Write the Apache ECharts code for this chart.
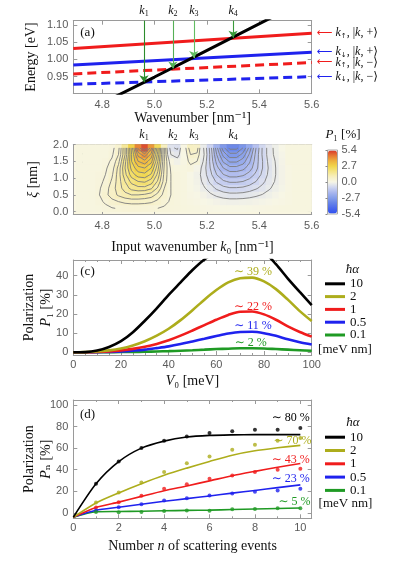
<!DOCTYPE html>
<html><head><meta charset="utf-8">
<script src="https://cdn.jsdelivr.net/npm/echarts@6/dist/echarts.min.js"></script>
<style>html,body{margin:0;padding:0;background:#fff}#c{width:398px;height:564px}</style>
</head><body><div id="c"></div>
<script>
// ================= DATA =================
// (a) band lines: energy at the two ends of the wavenumber window
const waveX = [4.69, 5.6];
const bandUpPlus = [1.032, 1.076];   // red solid
const bandDnPlus = [0.984, 1.021];   // blue solid
const bandUpMinus = [0.958, 0.991];  // red dashed
const bandDnMinus = [0.928, 0.950];  // blue dashed
const freeK = [4.85, 5.0, 5.15, 5.30, 5.45];
const freeE = [0.892, 0.949, 1.007, 1.065, 1.123];
const kPoints = [4.96, 5.07, 5.15, 5.30];
const kTargets = [0.934, 0.974, 1.004, 1.063];
const kNames = ['1', '2', '3', '4'];
const bandSpin = ['↑', '↓', '↑', '↓'];
const bandSign = ['+', '+', '−', '−'];

// (b) P1 map (cells 0.025 nm^-1 x 0.2 nm), rows from xi = 0.1 to 1.9
const kCells = [4.7125,4.7375,4.7625,4.7875,4.8125,4.8375,4.8625,4.8875,4.9125,4.9375,4.9625,4.9875,5.0125,5.0375,5.0625,5.0875,5.1125,5.1375,5.1625,5.1875,5.2125,5.2375,5.2625,5.2875,5.3125,5.3375,5.3625,5.3875,5.4125,5.4375,5.4625,5.4875,5.5125,5.5375,5.5625,5.5875];
const xiCells = [0.1,0.3,0.5,0.7,0.9,1.1,1.3,1.5,1.7,1.9];
const P1grid = [
 [0.15,0.15,0.15,0.18,0.22,0.28,0.32,0.35,0.36,0.36, 0.35,0.33,0.30,0.26,0.22,0.20,0.18,0.15,0.13,0.10, 0.08,0.06,0.05,0.04,0.04,0.05,0.06,0.08,0.10,0.12, 0.14,0.15,0.15,0.15,0.15,0.15],
 [0.15,0.15,0.16,0.22,0.35,0.50,0.60,0.68,0.72,0.72, 0.70,0.65,0.52,0.38,0.26,0.20,0.16,0.12,0.08,0.02, -0.04,-0.10,-0.14,-0.16,-0.16,-0.15,-0.13,-0.10,-0.06,-0.02, 0.04,0.08,0.12,0.15,0.15,0.15],
 [0.15,0.15,0.18,0.28,0.50,0.75,0.95,1.10,1.20,1.20, 1.15,1.05,0.80,0.50,0.30,0.20,0.15,0.08,0.02,-0.10, -0.24,-0.36,-0.45,-0.50,-0.50,-0.48,-0.43,-0.36,-0.28,-0.18, -0.08,0.02,0.12,0.15,0.15,0.15],
 [0.15,0.15,0.15,0.25,0.45,0.75,1.05,1.35,1.60,1.70, 1.70,1.55,1.15,0.60,0.30,0.20,0.15,0.05,-0.06,-0.25, -0.46,-0.66,-0.80,-0.87,-0.87,-0.84,-0.76,-0.64,-0.50,-0.34, -0.20,-0.06,0.10,0.15,0.15,0.15],
 [0.15,0.15,0.15,0.22,0.35,0.65,1.05,1.50,1.90,2.10, 2.15,1.95,1.45,0.75,0.30,0.20,0.15,0.02,-0.12,-0.38, -0.66,-0.95,-1.15,-1.25,-1.25,-1.20,-1.08,-0.90,-0.68,-0.45, -0.27,-0.10,0.10,0.15,0.15,0.15],
 [0.15,0.15,0.15,0.20,0.30,0.55,1.05,1.70,2.25,2.55, 2.60,2.35,1.70,0.80,0.30,0.20,0.15,0.00,-0.15,-0.45, -0.80,-1.20,-1.48,-1.62,-1.62,-1.55,-1.38,-1.12,-0.82,-0.52, -0.30,-0.10,0.10,0.15,0.15,0.15],
 [0.15,0.15,0.15,0.15,0.25,0.45,1.00,1.80,2.50,2.90, 3.00,2.70,1.90,0.85,0.25,0.15,0.15,0.20,-0.05,-0.45, -0.90,-1.40,-1.80,-2.00,-2.00,-1.90,-1.65,-1.30,-0.90,-0.55, -0.30,-0.10,0.10,0.15,0.15,0.15],
 [0.15,0.15,0.15,0.15,0.20,0.35,0.80,1.70,2.70,3.30, 3.50,3.10,2.10,0.90,0.10,-0.15,0.10,0.40,0.30,-0.35, -0.95,-1.60,-2.15,-2.45,-2.45,-2.25,-1.85,-1.35,-0.90,-0.50, -0.28,-0.08,0.15,0.15,0.15,0.15],
 [0.15,0.15,0.15,0.15,0.15,0.25,0.60,1.50,2.70,3.70, 4.10,3.50,2.30,0.90,-0.30,-0.45,0.05,0.60,0.55,-0.25, -0.95,-1.80,-2.50,-2.90,-2.90,-2.60,-2.05,-1.40,-0.85,-0.45, -0.22,-0.05,0.15,0.15,0.15,0.15],
 [0.15,0.15,0.15,0.15,0.15,0.20,0.50,1.50,2.80,4.30, 5.10,4.00,2.50,0.90,-0.55,-0.65,0.10,0.80,0.75,-0.30, -1.00,-2.00,-2.90,-3.40,-3.40,-3.00,-2.30,-1.50,-0.85,-0.45, -0.20,0.00,0.15,0.15,0.15,0.15]
];
const contourLevels = [-3.3,-3.0,-2.7,-2.4,-2.1,-1.8,-1.5,-1.2,-0.9,-0.6,-0.3,0.3,0.6,0.9,1.2,1.5,1.8,2.1,2.4,2.7,3.0,3.3,3.6,3.9,4.2,4.5,4.8];

// (c) P1 vs V0
const alphaNames = ['10', '2', '1', '0.5', '0.1'];
const V0 = [0,5,10,15,20,25,30,35,40,45,50,55,60,65,70,75,80,85,90,95,100];
const P1_10  = [0,0.1,0.9,2.8,5.8,10.5,16.5,23,30,36.5,43,48.5,52.5,55.5,57,56,52.5,46,38.5,31.5,24.7];
const P1_2   = [0,0.1,0.4,1.0,2.0,3.6,5.8,8.7,12.3,16.8,22,27.5,32.5,36.5,38.7,39,37,33,27.5,21.5,16.3];
const P1_1   = [0,0.05,0.2,0.5,1.0,1.8,2.9,4.4,6.3,8.7,11.4,14.2,17,19.5,21.2,21.3,19.8,17,13.5,10.6,8.2];
const P1_05  = [0,0.02,0.1,0.25,0.5,0.9,1.4,2.2,3.1,4.3,5.7,7.1,8.5,9.8,10.6,10.7,10,8.6,6.8,5.3,4.1];
const P1_01  = [0,0,0.05,0.1,0.15,0.2,0.3,0.45,0.6,0.85,1.1,1.4,1.7,1.9,2.1,2.1,2.0,1.7,1.4,1.1,0.8];
const peakTextC = ['', '∼ 39 %', '∼ 22 %', '∼ 11 %', '∼ 2 %'];

// (d) Pn vs n
const nFit = [0,1,2,3,4,5,6,7,8,9,10];
const fit_10 = [-4,27,47.5,60,66.5,70.3,71.8,72.3,72.5,72.5,72.5];
const fit_2  = [-4,9.2,18.5,27,34.8,41.5,47.7,53.5,57.6,60.3,62.6];
const fit_1  = [-4,5,10,15.3,20.5,25,29.7,34.5,38.5,42.3,45.8];
const fit_05 = [-4,2.4,5.2,8,10.8,13.2,15.7,18.3,20.8,23.4,26];
const fit_01 = [-4,1.0,1.3,1.6,2.0,2.3,2.6,3.1,3.6,4.1,4.6];
const nPts = [1,2,3,4,5,6,7,8,9,10];
const pts_10 = [26.9,47.7,60.1,66.9,70.9,74.0,75.6,77.1,77.1,78.6];
const pts_2  = [9.6,18.9,28.2,37.8,46.1,52.3,58.5,63.1,66.9,69.5];
const pts_1  = [5.0,9.9,15.8,22.3,26.6,31.6,34.7,37.8,40.0,40.9];
const pts_05 = [2.2,5.3,8.0,11.4,13.6,16.1,18.0,19.5,20.8,22.3];
const pts_01 = [0.8,0.6,0.9,1.8,2.2,1.9,3.4,3.7,4.3,4.3];
const endTextD = ['∼ 80 %', '∼ 70 %', '∼ 43 %', '∼ 23 %', '∼ 5 %'];

// tick label values
const ticksK = [4.8, 5.0, 5.2, 5.4, 5.6];
const ticksE = [0.95, 1.00, 1.05, 1.10];
const ticksXi = [0.0, 0.5, 1.0, 1.5, 2.0];
const ticksV0 = [0, 20, 40, 60, 80, 100];
const ticksPc = [0, 10, 20, 30, 40];
const ticksN = [0, 2, 4, 6, 8, 10];
const ticksPd = [0, 20, 40, 60, 80, 100];

// ================= STYLE / LAYOUT =================
const SERIF = '"Liberation Serif","DejaVu Serif",serif';
const SANS = '"Liberation Sans","DejaVu Sans",sans-serif';
const FR = '#9a9a9a', TL = '#5a5a5a';
const RED = '#f01c1c', BLUE = '#1f22ee', OLIVE = '#adad1c', GREEN = '#1f9a24', BLACK = '#000';
const alphaColors = [BLACK, OLIVE, RED, BLUE, GREEN];
const L = 73.3, R = 398 - 311.7;

const zip = (a, b) => a.map((v, i) => [v, b[i]]);
const nameStyle = {fontFamily: SERIF, fontSize: 14, color: '#111'};

function ax(gi, pos, min, max, ticks, o) {
  o = o || {};
  const a = {
    type: 'value', gridIndex: gi, position: pos, min: min, max: max,
    axisLine: {show: true, onZero: false, lineStyle: {color: FR, width: 1}},
    axisTick: {show: true, inside: true, length: 4, customValues: ticks, lineStyle: {color: FR}},
    axisLabel: {show: !!o.label, customValues: ticks, color: TL, fontFamily: SANS, fontSize: 11,
                margin: o.margin || 5, formatter: o.fmt},
    splitLine: {show: false}
  };
  if (o.name) { a.name = o.name; a.nameLocation = 'middle'; a.nameGap = o.nameGap; a.nameMoveOverlap = false;
    a.nameTextStyle = Object.assign({}, nameStyle, o.nameStyle || {}); }
  if (o.minor) a.minorTick = {show: true, splitNumber: o.minor, length: 2, lineStyle: {color: FR}};
  if (o.interval) a.interval = o.interval;
  return a;
}
const f2 = v => v.toFixed(2), f1 = v => v.toFixed(1), f0 = v => String(v);
const kLabel = {
  show: true, customValues: kPoints, margin: 3, fontFamily: SERIF, fontSize: 11, color: '#111',
  formatter: v => { let i = 0, d = 1e9; kPoints.forEach((k, j) => { if (Math.abs(k - v) < d) { d = Math.abs(k - v); i = j; } });
    return '{k|k}{s|' + kNames[i] + '}'; },
  rich: {k: {fontFamily: SERIF, fontStyle: 'italic', fontSize: 12, color: '#111'},
         s: {fontFamily: SERIF, fontSize: 8, color: '#111', verticalAlign: 'bottom', padding: [5, 0, 0, 0]}}
};
const italicRich = {t: nameStyle, k: Object.assign({}, nameStyle, {fontStyle: 'italic'})};
const twoLineRich = {lineHeight: 17, rich: {t: Object.assign({}, nameStyle, {lineHeight: 17}), k: Object.assign({}, nameStyle, {fontStyle: 'italic', lineHeight: 17})}};

const grids = [
  {left: L, right: R, top: 20.7, height: 72.6},          // 0 (a)
  {left: L, right: R, top: 144.5, height: 70, show: true, backgroundColor: '#f9f6e1', borderWidth: 0}, // 1 (b) frame
  {left: L, right: R, top: 260, height: 95},              // 2 (c)
  {left: L, right: R, top: 400, height: 118.3},           // 3 (d)
  {left: L + 0.01 * 262, right: R, top: 144.5, height: 67.2}, // 4 (b) heatmap cells
  {left: 327.5, top: 150, width: 10, height: 64, show: true, borderColor: '#aaa', borderWidth: 1} // 5 colorbar
];

const xAxes = [
  ax(0, 'bottom', 4.69, 5.6, ticksK, {label: true, fmt: f1, margin: 6, name: 'Wavenumber [nm⁻¹]', nameGap: 18}),
  Object.assign(ax(0, 'top', 4.69, 5.6, ticksK), {axisLabel: kLabel}),
  ax(1, 'bottom', 4.69, 5.6, ticksK, {label: true, fmt: f1, margin: 6, name: '{t|Input wavenumber }{k|k}{t|₀ [nm⁻¹]}', nameGap: 26,
     nameStyle: {rich: italicRich}}),
  Object.assign(ax(1, 'top', 4.69, 5.6, ticksK), {axisLabel: kLabel}),
  ax(2, 'bottom', 0, 100, ticksV0, {label: true, fmt: f0, margin: 4, interval: 20, minor: 4,
     name: '{k|V}{t|₀ [meV]}', nameGap: 19, nameStyle: {rich: italicRich}}),
  ax(2, 'top', 0, 100, ticksV0, {interval: 20, minor: 4}),
  ax(3, 'bottom', 0, 10.5, ticksN, {label: true, fmt: f0, margin: 4, interval: 2, minor: 2,
     name: '{t|Number }{k|n}{t| of scattering events}', nameGap: 21, nameStyle: {rich: italicRich}}),
  ax(3, 'top', 0, 10.5, ticksN, {interval: 2, minor: 2}),
  {type: 'category', gridIndex: 4, data: kCells.map(String), show: false},
  {type: 'value', gridIndex: 5, show: false}
];
const yAxes = [
  ax(0, 'left', 0.9018, 1.1125, ticksE, {label: true, fmt: f2, margin: 5, name: 'Energy [eV]', nameGap: 35}),
  ax(0, 'right', 0.9018, 1.1125, ticksE),
  ax(1, 'left', -0.083, 2.0, ticksXi, {label: true, fmt: f1, margin: 5, name: '{k|ξ}{t| [nm]}', nameGap: 33,
     nameStyle: {rich: italicRich}}),
  ax(1, 'right', -0.083, 2.0, ticksXi),
  ax(2, 'left', -1.4, 48.2, ticksPc, {label: true, fmt: f0, margin: 5, name: '{t|Polarization}\n{k|P}{t|₁ [%]}', nameGap: 18,
     nameStyle: twoLineRich}),
  ax(2, 'right', -1.4, 48.2, ticksPc),
  ax(3, 'left', -5, 104.6, ticksPd, {label: true, fmt: f0, margin: 5, name: '{t|Polarization}\n{k|P}{t|ₙ [%]}', nameGap: 18,
     nameStyle: twoLineRich}),
  ax(3, 'right', -5, 104.6, ticksPd),
  {type: 'category', gridIndex: 4, data: xiCells.map(String), show: false},
  {type: 'value', gridIndex: 5, position: 'right', min: -5.4, max: 5.4, interval: 2.7,
   axisLine: {show: false}, axisTick: {show: true, inside: true, length: 2, lineStyle: {color: '#888'}}, splitLine: {show: false},
   axisLabel: {color: TL, fontFamily: SANS, fontSize: 11, margin: 4, formatter: f1}}
];

const series = [];
// ---- (a)
const bandSets = [[bandUpPlus, RED, 'solid'], [bandDnPlus, BLUE, 'solid'], [bandUpMinus, RED, [9, 5]], [bandDnMinus, BLUE, [9, 5]]];
bandSets.forEach((b, i) => {
  series.push({
    type: 'line', xAxisIndex: 0, yAxisIndex: 0, data: zip(waveX, b[0]), symbol: 'none',
    lineStyle: {color: b[1], width: 3, type: b[2]}, itemStyle: {color: b[1]}, z: 3,
    endLabel: {show: true, distance: 5, color: '#111',
      formatter: () => '{a|⟵}{t| }{k|k}{s|' + bandSpin[i] + '}{t|, |}{k|k}{t|, ' + bandSign[i] + '⟩}',
      rich: {a: {color: b[1], fontFamily: '"DejaVu Sans"', fontSize: 11},
             t: {fontFamily: SERIF, fontSize: 12, color: '#111'},
             k: {fontFamily: SERIF, fontStyle: 'italic', fontSize: 12, color: '#111'},
             s: {fontFamily: '"DejaVu Sans"', fontSize: 7, color: '#111', verticalAlign: 'bottom', padding: [5, 0, 0, 0]}}}
  });
});
const arrowCols = ['#2c8c2c', '#55b055', '#62bd62', '#3a9a3a'];
series.push({
  type: 'line', xAxisIndex: 0, yAxisIndex: 0, data: zip(freeK, freeE), symbol: 'none',
  lineStyle: {color: BLACK, width: 3}, z: 4,
  markLine: {silent: true, symbol: ['none', 'arrow'], symbolSize: 7, label: {show: false}, animation: false,
    data: kPoints.map((k, i) => [{coord: [k, 1.1125], lineStyle: {color: arrowCols[i], width: 1.1, type: 'solid'}},
                                 {coord: [k, kTargets[i]]}])}
});
// ---- (b)
const heatData = [];
P1grid.forEach((row, r) => row.forEach((v, c) => heatData.push([c, r, v])));
const heatIdx = series.length;
series.push({type: 'heatmap', xAxisIndex: 8, yAxisIndex: 8, data: heatData, progressive: 0, emphasis: {disabled: true}});
// contour lines of the same grid (marching squares, drawn in pixel space via the axes)
function contourPath(api) {
  const p0 = api.coord([0, 0]), p1 = api.coord([1, 1]);
  const dx = p1[0] - p0[0], dy = p1[1] - p0[1];
  const X = c => p0[0] + c * dx, Y = r => p0[1] + r * dy;
  const g = P1grid, nr = g.length, nc = g[0].length;
  let d = '';
  contourLevels.forEach(lv => {
    for (let r = 0; r < nr - 1; r++) for (let c = 0; c < nc - 1; c++) {
      const corners = [[c, r, g[r][c]], [c + 1, r, g[r][c + 1]], [c + 1, r + 1, g[r + 1][c + 1]], [c, r + 1, g[r + 1][c]]];
      const pts = [];
      for (let e = 0; e < 4; e++) {
        const a = corners[e], b = corners[(e + 1) % 4];
        if ((a[2] >= lv) !== (b[2] >= lv)) {
          const t = (lv - a[2]) / (b[2] - a[2]);
          pts.push([X(a[0] + t * (b[0] - a[0])), Y(a[1] + t * (b[1] - a[1]))]);
        }
      }
      const seg = (p, q) => { d += 'M' + p[0].toFixed(2) + ' ' + p[1].toFixed(2) + 'L' + q[0].toFixed(2) + ' ' + q[1].toFixed(2); };
      if (pts.length === 2) seg(pts[0], pts[1]);
      else if (pts.length === 4) { seg(pts[0], pts[3]); seg(pts[1], pts[2]); }
    }
  });
  return d;
}
series.push({type: 'custom', xAxisIndex: 8, yAxisIndex: 8, data: [[0, 0]], silent: true, z: 3,
  renderItem: (params, api) => ({type: 'path', shape: {pathData: contourPath(api)},
    style: {fill: 'none', stroke: '#7d7d7d', lineWidth: 0.9}})});
// ---- (c)
const cSets = [P1_10, P1_2, P1_1, P1_05, P1_01];
const cAnn = [null, [75.4, 42.1], [75.4, 23.8], [75.4, 13.9], [74.4, 5.2]];
cSets.forEach((d, i) => {
  const s = {type: 'line', name: alphaNames[i], xAxisIndex: 4, yAxisIndex: 4, data: zip(V0, d), symbol: 'none', smooth: 0.3,
    lineStyle: {color: alphaColors[i], width: 2.6}, itemStyle: {color: alphaColors[i]}, z: 3 + (4 - i)};
  if (cAnn[i]) s.markPoint = {symbol: 'circle', symbolSize: 0, animation: false, silent: true,
    label: {show: true, position: 'inside', fontFamily: SERIF, fontSize: 12, color: alphaColors[i], formatter: peakTextC[i]},
    data: [{coord: cAnn[i], value: 0}]};
  series.push(s);
});
// ---- (d)
const dFits = [fit_10, fit_2, fit_1, fit_05, fit_01];
const dPts = [pts_10, pts_2, pts_1, pts_05, pts_01];
const dAnn = [[9.58, 88], [9.65, 66.8], [9.58, 49.2], [9.58, 31.3], [9.74, 9.9]];
dFits.forEach((d, i) => {
  series.push({type: 'line', name: alphaNames[i], xAxisIndex: 6, yAxisIndex: 6, data: zip(nFit, d), symbol: 'none', smooth: 0.25,
    lineStyle: {color: alphaColors[i], width: 1.6}, itemStyle: {color: alphaColors[i]}, z: 3 + (4 - i),
    markPoint: {symbol: 'circle', symbolSize: 0, animation: false, silent: true,
      label: {show: true, position: 'inside', fontFamily: SERIF, fontSize: 12, color: alphaColors[i], formatter: endTextD[i]},
      data: [{coord: dAnn[i], value: 0}]}});
  series.push({type: 'scatter', name: 'pts' + i, xAxisIndex: 6, yAxisIndex: 6, data: zip(nPts, dPts[i]),
    symbolSize: 4, itemStyle: {color: alphaColors[i]}, z: 8});
});

const legendBase = {orient: 'vertical', left: 325, icon: 'rect', itemWidth: 20, itemHeight: 3, data: alphaNames, padding: 0,
  selectedMode: false, textStyle: {fontFamily: SERIF, fontSize: 13, color: '#111', lineHeight: 12}};

const txt = (x, y, text, extra) => ({type: 'text', x: x, y: y, silent: true,
  style: Object.assign({text: text, fontFamily: SERIF, fontSize: 13, fill: '#111', align: 'center', verticalAlign: 'middle'}, extra || {})});

const option = {
  animation: false,
  backgroundColor: '#fff',
  grid: grids,
  xAxis: xAxes,
  yAxis: yAxes,
  visualMap: [{type: 'continuous', seriesIndex: heatIdx, min: -5.4, max: 5.4, calculable: false, hoverLink: false,
    orient: 'vertical', left: 328, top: 150.5, itemWidth: 9, itemHeight: 63, padding: 0, text: null, showLabel: false,
    inRange: {color: ['#3050f0', '#4b68ec', '#6683e8', '#879fea', '#a9b7ee', '#d0d6f0', '#f7f6e6', '#f7efbf', '#f5e586', '#f1d64c', '#eeb23e', '#e77a34', '#d8392b']}}],
  legend: [Object.assign({}, legendBase, {top: 277.3, itemGap: -0.2}), Object.assign({}, legendBase, {top: 430.7, itemGap: 0.3})],
  graphic: [
    txt(87.5, 33, '(a)'), txt(87.5, 158, '(b)'), txt(87.5, 271.7, '(c)'), txt(87.5, 415, '(d)'),
    txt(343, 135, '{k|P}{t|₁ [%]}', {rich: {k: {fontFamily: SERIF, fontStyle: 'italic', fontSize: 13}, t: {fontFamily: SERIF, fontSize: 13}}}),
    txt(352.5, 270, 'ħα', {fontStyle: 'italic'}), txt(353, 422.7, 'ħα', {fontStyle: 'italic'}),
    txt(345, 350, '[meV nm]'), txt(345.5, 503.3, '[meV nm]')
  ],
  series: series
};
const chart = echarts.init(document.getElementById('c'), null, {renderer: 'canvas'});
chart.setOption(option);
</script></body></html>
